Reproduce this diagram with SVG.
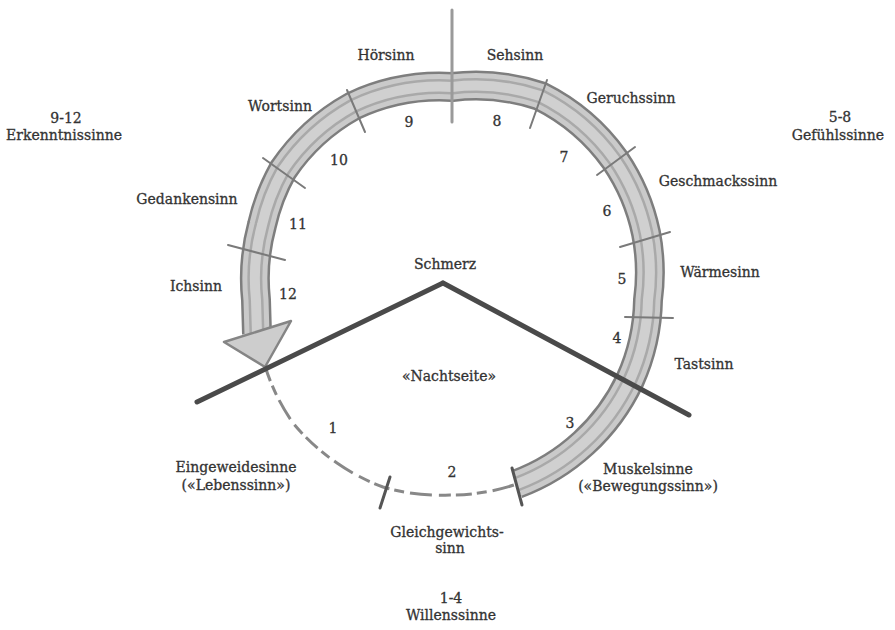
<svg xmlns="http://www.w3.org/2000/svg" width="895" height="630" viewBox="0 0 895 630">
  <style>
    .t { font-family: "DejaVu Serif", "Liberation Serif", serif; font-size: 14px; fill: #333; stroke: #333; stroke-width: 0.3; text-anchor: middle; }
    .tick { stroke: #7a7a7a; stroke-width: 2; stroke-linecap: round; fill: none; }
    .tickd { stroke: #555; stroke-width: 3; stroke-linecap: round; fill: none; }
    .pain { stroke: #4a4a4a; stroke-width: 5; stroke-linecap: round; stroke-linejoin: round; fill: none; }
  </style>
  <defs>
    <path id="band" d="M517,484 A204,204 0 0 0 630,380 A204,204 0 0 0 648,300 A204,204 0 0 0 646,233 A204,204 0 0 0 615,160 A204,204 0 0 0 540,96 A204,204 0 0 0 452,87 A204,204 0 0 0 353,106 A204,204 0 0 0 283,170 A204,204 0 0 0 262,225 A204,204 0 0 0 256,300 L257,334"/>
  </defs>
  <rect width="895" height="630" fill="#ffffff"/>

  <g id="connectors">
    <!-- thick sense band -->
    <use href="#band" fill="none" stroke="#7e7e7e" stroke-width="30"/>
    <use href="#band" fill="none" stroke="#cacaca" stroke-width="25"/>
    <use href="#band" fill="none" stroke="#a9a9a9" stroke-width="15"/>
    <use href="#band" fill="none" stroke="#d0d0d0" stroke-width="10"/>
    <!-- arrowhead -->
    <polygon points="224,342 291,321 265,367" fill="#cdcdcd" stroke="#858585" stroke-width="2.5" stroke-linejoin="round"/>
    <!-- dashed lower part -->
    <path d="M265,366 A205,205 0 0 0 293,423 A205,205 0 0 0 337,463 A205,205 0 0 0 383,487 A205,205 0 0 0 450,495 A205,205 0 0 0 517,484" fill="none" stroke="#888" stroke-width="3" stroke-dasharray="16 5 10 6 22 7 12 5"/>
    <!-- vertical axis -->
    <line x1="452" y1="10" x2="452" y2="122" stroke="#9a9a9a" stroke-width="3" stroke-linecap="round"/>
    <!-- ticks -->
    <line class="tick" x1="347" y1="90" x2="365" y2="132"/>
    <line class="tick" x1="263" y1="158" x2="305" y2="188"/>
    <line class="tick" x1="228" y1="245" x2="285" y2="260" stroke="#9a9a9a"/>
    <line class="tick" x1="547" y1="80" x2="530" y2="128"/>
    <line class="tick" x1="635" y1="147" x2="597" y2="175"/>
    <line class="tick" x1="670" y1="232" x2="620" y2="247"/>
    <line class="tick" x1="625" y1="317" x2="673" y2="318"/>
    <line class="tickd" x1="512" y1="468" x2="522" y2="505"/>
    <line class="tickd" x1="390" y1="477" x2="380" y2="508"/>
    <!-- pain lines -->
    <path class="pain" d="M197,402 L443,283" stroke="#666"/>
    <path class="pain" d="M443,283 L689,415"/>
  </g>

  <g id="hoersinn"><text class="t" x="386" y="60">Hörsinn</text></g>
  <g id="sehsinn"><text class="t" x="515" y="60">Sehsinn</text></g>
  <g id="wortsinn"><text class="t" x="280" y="111">Wortsinn</text></g>
  <g id="geruchssinn"><text class="t" x="631" y="103">Geruchssinn</text></g>
  <g id="geschmackssinn"><text class="t" x="718" y="186">Geschmackssinn</text></g>
  <g id="gedankensinn"><text class="t" x="187" y="204">Gedankensinn</text></g>
  <g id="ichsinn"><text class="t" x="196" y="291">Ichsinn</text></g>
  <g id="waermesinn"><text class="t" x="720" y="277">Wärmesinn</text></g>
  <g id="tastsinn"><text class="t" x="704" y="369">Tastsinn</text></g>
  <g id="schmerz"><text class="t" x="445" y="269">Schmerz</text></g>
  <g id="nachtseite"><text class="t" x="449" y="381">«Nachtseite»</text></g>
  <g id="eingeweidesinne"><text class="t" x="236" y="472">Eingeweidesinne</text><text class="t" x="236" y="490">(«Lebenssinn»)</text></g>
  <g id="gleichgewichtssinn"><text class="t" x="447" y="537">Gleichgewichts-</text><text class="t" x="450" y="553">sinn</text></g>
  <g id="muskelsinne"><text class="t" x="648" y="474">Muskelsinne</text><text class="t" x="648" y="491">(«Bewegungssinn»)</text></g>
  <g id="willenssinne"><text class="t" x="451" y="603">1-4</text><text class="t" x="451" y="620">Willenssinne</text></g>
  <g id="erkenntnissinne"><text class="t" x="66" y="123">9-12</text><text class="t" x="64" y="140">Erkenntnissinne</text></g>
  <g id="gefuehlssinne"><text class="t" x="840" y="122">5-8</text><text class="t" x="838" y="140">Gefühlssinne</text></g>

  <g id="numbers">
    <text class="t" x="409" y="127">9</text>
    <text class="t" x="497" y="126">8</text>
    <text class="t" x="339" y="165">10</text>
    <text class="t" x="564" y="162">7</text>
    <text class="t" x="607" y="216">6</text>
    <text class="t" x="298" y="229">11</text>
    <text class="t" x="288" y="299">12</text>
    <text class="t" x="622" y="284">5</text>
    <text class="t" x="617" y="343">4</text>
    <text class="t" x="570" y="428">3</text>
    <text class="t" x="452" y="477">2</text>
    <text class="t" x="333" y="433">1</text>
  </g>
</svg>
